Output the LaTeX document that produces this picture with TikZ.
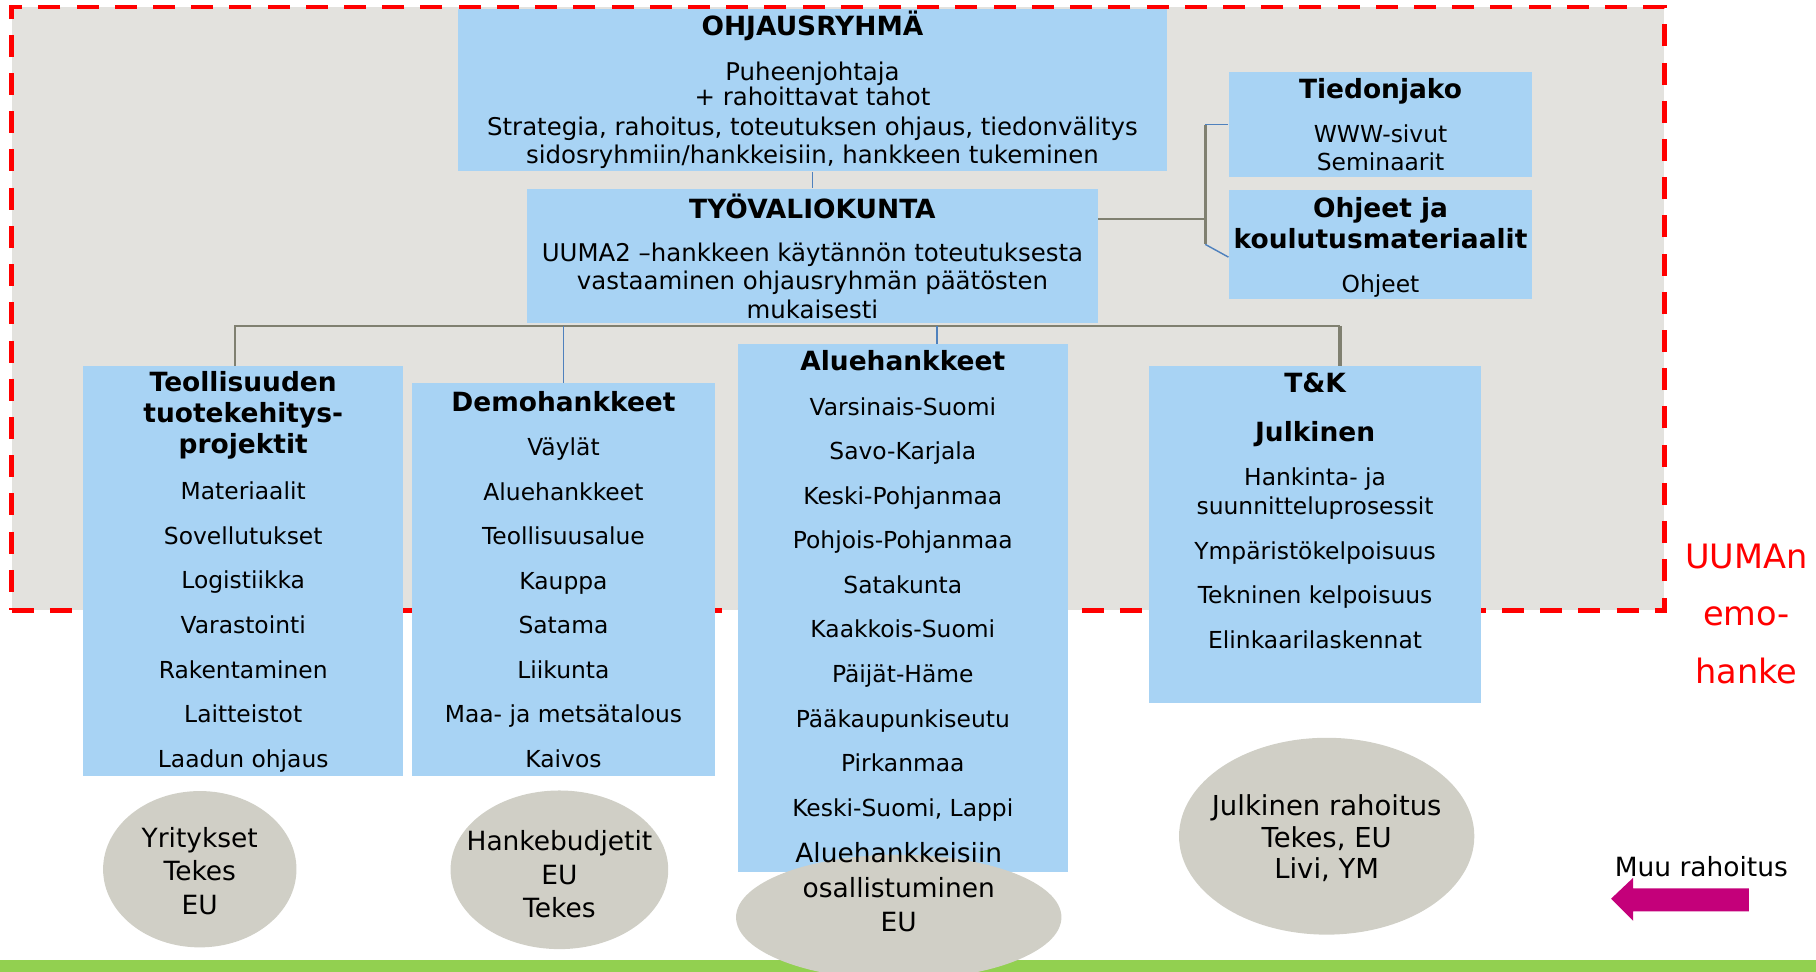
\documentclass[tikz,border=0pt]{standalone}
\usepackage{fontspec}
\setmainfont{DejaVu Sans}
\usetikzlibrary{positioning,fit,calc,shapes.geometric}
\tikzset{>=latex}

\definecolor{boxblue}{RGB}{168,211,244}
\definecolor{emogray}{RGB}{227,226,222}
\definecolor{fundgray}{RGB}{208,207,198}
\definecolor{lineblue}{RGB}{79,129,189}
\definecolor{linegray}{RGB}{128,128,112}
\definecolor{muumagenta}{RGB}{196,0,122}
\definecolor{bargreen}{RGB}{146,208,80}

\newcommand{\boxtitle}{\fontsize{13}{15}\bfseries\selectfont}

\tikzset{
	orgbox/.style={fill=boxblue, inner sep=0pt},
	orgtext/.style={inner sep=0pt, align=center, anchor=north},
	itemfont/.style={font=\fontsize{11.5}{21.9}\selectfont},
	fund/.style={ellipse, fill=fundgray, inner sep=0pt},
	fundtext/.style={align=center, inner sep=0pt, font=\fontsize{13}{16.5}\selectfont},
	blueline/.style={draw=lineblue, line width=0.7pt},
	grayline/.style={draw=linegray, line width=1.2pt},
}

\begin{document}
\begin{tikzpicture}[x=0.02cm, y=-0.02cm]

	\useasboundingbox (0,0) rectangle (1568,839);

	\fill[bargreen] (0,829) rectangle (1568,839);

	\node (emo-box) [fill=emogray, draw=red, line width=2.4pt, dash pattern=on 0.38cm off 0.28cm, minimum width=28.54cm, minimum height=10.42cm] at (723.5,266.5) {};
	\node (emo-label) [text=red, align=center, font=\fontsize{16.5}{28.3}\selectfont] at (1508,530) {UUMAn\\emo-\\hanke};

		\node (ohjaus-box) [orgbox, minimum width=12.26cm, minimum height=2.8cm] at (701.5,78) {};
		\node (ohjaus) [orgtext, font=\fontsize{12}{13.6}\selectfont, below=0.03cm of ohjaus-box.north] {{\boxtitle OHJAUSRYHMÄ}\\[8.4pt]Puheenjohtaja\\[-1.1pt]+ rahoittavat tahot\\[1.1pt]Strategia, rahoitus, toteutuksen ohjaus, tiedonvälitys\\sidosryhmiin/hankkeisiin, hankkeen tukeminen};

		\node (tyo-box) [orgbox, minimum width=9.86cm, minimum height=2.32cm] at (701.5,221) {};
		\node (tyo) [orgtext, font=\fontsize{12}{14}\selectfont, below=0.09cm of tyo-box.north] {{\boxtitle TYÖVALIOKUNTA}\\[7pt]UUMA2 –hankkeen käytännön toteutuksesta\\vastaaminen ohjausryhmän päätösten\\mukaisesti};

		\node (tieto-box) [orgbox, minimum width=5.24cm, minimum height=1.82cm] at (1192,107.5) {};
		\node (tieto) [orgtext, font=\fontsize{11.5}{14.2}\selectfont, below=0.11cm of tieto-box.north] {{\boxtitle Tiedonjako}\\[7.3pt]WWW-sivut\\Seminaarit};

		\node (ohjeet-box) [orgbox, minimum width=5.24cm, minimum height=1.88cm] at (1192,211) {};
		\node (ohjeet) [orgtext, font=\fontsize{11.5}{15.3}\selectfont, below=0.13cm of ohjeet-box.north] {{\boxtitle Ohjeet ja}\\{\boxtitle koulutusmateriaalit}\\[6.2pt]Ohjeet};

		\node (teoll-box) [orgbox, minimum width=5.52cm, minimum height=7.08cm] at (210,493) {};
		\node (teoll) [orgtext, itemfont, below=0.09cm of teoll-box.north] {{\boxtitle Teollisuuden}\\[-6.6pt]{\boxtitle tuotekehitys-}\\[-6.6pt]{\boxtitle projektit}\\[0.8pt]Materiaalit\\Sovellutukset\\Logistiikka\\Varastointi\\Rakentaminen\\Laitteistot\\Laadun ohjaus};

		\node (demo-box) [orgbox, minimum width=5.22cm, minimum height=6.78cm] at (486.5,500.5) {};
		\node (demo) [orgtext, itemfont, below=0.13cm of demo-box.north] {{\boxtitle Demohankkeet}\\Väylät\\Aluehankkeet\\Teollisuusalue\\Kauppa\\Satama\\Liikunta\\Maa- ja metsätalous\\Kaivos};

		\node (alue-box) [orgbox, minimum width=5.7cm, minimum height=9.12cm] at (779.5,525) {};
		\node (alue) [orgtext, itemfont, below=0.11cm of alue-box.north] {{\boxtitle Aluehankkeet}\\Varsinais-Suomi\\Savo-Karjala\\Keski-Pohjanmaa\\Pohjois-Pohjanmaa\\Satakunta\\Kaakkois-Suomi\\Päijät-Häme\\Pääkaupunkiseutu\\Pirkanmaa\\Keski-Suomi, Lappi};

		\node (tk-box) [orgbox, minimum width=5.74cm, minimum height=5.82cm] at (1135.5,461.5) {};
		\node (tk) [orgtext, itemfont, below=0.12cm of tk-box.north] {{\boxtitle T\&K}\\[1.9pt]{\boxtitle Julkinen}\\Hankinta- ja\\[-7.7pt]suunnitteluprosessit\\Ympäristökelpoisuus\\Tekninen kelpoisuus\\Elinkaarilaskennat};

	% connectors
	\coordinate (bus) at ([yshift=-0.04cm]tyo-box.south);
	\coordinate (teoll-drop) at ([xshift=-0.14cm]teoll-box.north);
	\coordinate (alue-drop) at ([xshift=0.59cm]alue-box.north);
	\coordinate (tk-drop) at ([xshift=0.43cm]tk-box.north);
	\coordinate (tyo-side) at ([yshift=0.64cm]tyo-box.east);
	\coordinate (side-top) at ([xshift=-0.4cm]tieto-box.west);
	\coordinate (side-bot) at ([xshift=-0.4cm]ohjeet-box.west);

	\draw[blueline] (ohjaus-box.south) to (tyo-box.north);
	\draw[grayline] (teoll-drop) -- (teoll-drop |- bus) -- (tk-drop |- bus);
	\draw[grayline, line width=1.8pt] (tk-drop |- bus) -- (tk-drop);
	\draw[blueline] (demo-box.north) -- (demo-box.north |- bus);
	\draw[blueline] (alue-drop) -- (alue-drop |- bus);

	\draw[grayline] (tyo-side) -- (tyo-side -| side-top);
	\draw[grayline] (side-top) -- (side-bot);
	\draw[blueline] (side-top) -- (tieto-box.west);
	\draw[blueline] (side-bot) -- ([yshift=-0.22cm]ohjeet-box.west);

	% funding
	\node (yritys-fund) [fund, minimum width=3.34cm, minimum height=2.7cm] at (172.5,750.5) {};
	\node (yritys-text) [fundtext] at (172.5,752) {Yritykset\\Tekes\\EU};
	\node (hanke-fund) [fund, minimum width=3.76cm, minimum height=2.74cm] at (483,751) {};
	\node (hanke-text) [fundtext] at (483,755) {Hankebudjetit\\EU\\Tekes};
	\node (alue-fund) [fund, minimum width=5.62cm, minimum height=2.16cm] at (776,792) {};
	\node (alue-text) [fundtext, font=\fontsize{13}{17}\selectfont] at (776,766) {Aluehankkeisiin\\osallistuminen\\EU};
	\node (julk-fund) [fund, minimum width=5.1cm, minimum height=3.4cm] at (1145.5,722) {};
	\node (julk-text) [fundtext, font=\fontsize{13.5}{15.5}\selectfont] at (1145.5,724) {Julkinen rahoitus\\Tekes, EU\\Livi, YM};

	\node (muu) [font=\fontsize{13}{15}\selectfont] at (1469,748) {Muu rahoitus};
	\fill[muumagenta] (1391,776) -- (1410,758) -- (1410,767) -- (1510,767) -- (1510,787) -- (1410,787) -- (1410,795) -- cycle;

\end{tikzpicture}
\end{document}
